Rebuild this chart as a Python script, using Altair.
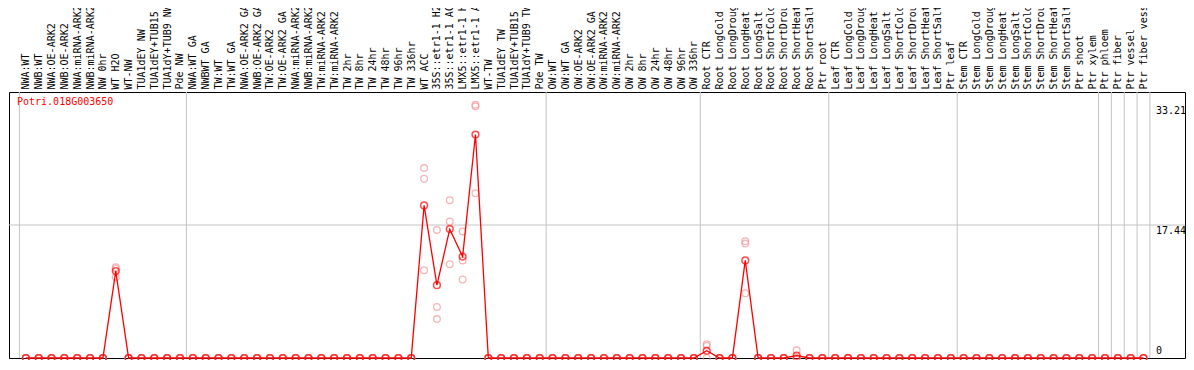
import json
import altair as alt
import pandas as pd

gene = "Potri.018G003650"

labels = [
    "NWA:WT", "NWB:WT", "NWA:OE-ARK2", "NWB:OE-ARK2", "NWA:miRNA-ARK2", "NWB:miRNA-ARK2",
    "NW 0hr", "WT H2O", "WT-NW", "TUA1dEY NW", "TUA1dEY+TUB15 NW", "TUA1dY+TUB9 NW", "Pde NW",
    "NWA:WT GA", "NWBWT GA", "TW:WT", "TW:WT GA", "NWA:OE-ARK2 GA", "NWB:OE-ARK2 GA",
    "TW:OE-ARK2", "TW:OE-ARK2 GA", "NWA:miRNA-ARK2", "NWB:miRNA-ARK2", "TW:miRNA-ARK2",
    "TW:miRNA-ARK2", "TW 2hr", "TW 8hr", "TW 24hr", "TW 48hr", "TW 96hr", "TW 336hr",
    "WT ACC", "35S::etr1-1 H2O", "35S::etr1-1 ACC", "LMX5::etr1-1 H2O", "LMX5::etr1-1 ACC",
    "WT-TW", "TUA1dEY TW", "TUA1dEY+TUB15 TW", "TUA1dY+TUB9 TW", "Pde TW",
    "OW:WT", "OW:WT GA", "OW:OE-ARK2", "OW:OE-ARK2 GA", "OW:miRNA-ARK2", "OW:miRNA-ARK2",
    "OW 2hr", "OW 8hr", "OW 24hr", "OW 48hr", "OW 96hr", "OW 336hr",
    "Root CTR", "Root LongCold", "Root LongDrought", "Root LongHeat", "Root LongSalt",
    "Root ShortCold", "Root ShortDrought", "Root ShortHeat", "Root ShortSalt", "Ptr root",
    "Leaf CTR", "Leaf LongCold", "Leaf LongDrought", "Leaf LongHeat", "Leaf LongSalt",
    "Leaf ShortCold", "Leaf ShortDrought", "Leaf ShortHeat", "Leaf ShortSalt", "Ptr leaf",
    "Stem CTR", "Stem LongCold", "Stem LongDrought", "Stem LongHeat", "Stem LongSalt",
    "Stem ShortCold", "Stem ShortDrought", "Stem ShortHeat", "Stem ShortSalt", "Ptr shoot",
    "Ptr xylem", "Ptr phloem", "Ptr fiber", "Ptr vessel", "Ptr fiber vessel",
]

mean = [
    0, 0, 0, 0, 0, 0, 0, 11.4, 0, 0, 0, 0, 0,
    0, 0, 0, 0, 0, 0, 0, 0, 0, 0, 0, 0, 0, 0, 0, 0, 0, 0,
    20.0, 9.55, 16.9, 13.3, 29.3, 0, 0, 0, 0, 0,
    0, 0, 0, 0, 0, 0, 0, 0, 0, 0, 0, 0,
    0.95, 0, 0, 12.8, 0, 0, 0, 0.3, 0, 0,
    0, 0, 0, 0, 0, 0, 0, 0, 0, 0,
    0, 0, 0, 0, 0, 0, 0, 0, 0, 0,
    0, 0, 0, 0, 0,
]
rep1 = [
    0, 0, 0, 0, 0, 0, 0, 11.7, 0, 0, 0, 0, 0,
    0, 0, 0, 0, 0, 0, 0, 0, 0, 0, 0, 0, 0, 0, 0, 0, 0, 0,
    24.9, 16.8, 20.7, 16.6, 33.21, 0, 0, 0, 0, 0,
    0, 0, 0, 0, 0, 0, 0, 0, 0, 0, 0, 0,
    1.8, 0, 0, 15.3, 0, 0, 0, 1.0, 0, 0,
    0, 0, 0, 0, 0, 0, 0, 0, 0, 0,
    0, 0, 0, 0, 0, 0, 0, 0, 0, 0,
    0, 0, 0, 0, 0,
]
rep2 = [
    0, 0, 0, 0, 0, 0, 0, 11.9, 0, 0, 0, 0, 0,
    0, 0, 0, 0, 0, 0, 0, 0, 0, 0, 0, 0, 0, 0, 0, 0, 0, 0,
    23.5, 6.7, 17.9, 12.8, 33.0, 0, 0, 0, 0, 0,
    0, 0, 0, 0, 0, 0, 0, 0, 0, 0, 0, 0,
    1.6, 0, 0, 15.0, 0, 0, 0, 0, 0, 0,
    0, 0, 0, 0, 0, 0, 0, 0, 0, 0,
    0, 0, 0, 0, 0, 0, 0, 0, 0, 0,
    0, 0, 0, 0, 0,
]
rep3 = [
    0, 0, 0, 0, 0, 0, 0, 10.6, 0, 0, 0, 0, 0,
    0, 0, 0, 0, 0, 0, 0, 0, 0, 0, 0, 0, 0, 0, 0, 0, 0, 0,
    11.5, 5.1, 12.3, 10.3, 21.6, 0, 0, 0, 0, 0,
    0, 0, 0, 0, 0, 0, 0, 0, 0, 0, 0, 0,
    0, 0, 0, 8.5, 0, 0, 0, 0, 0, 0,
    0, 0, 0, 0, 0, 0, 0, 0, 0, 0,
    0, 0, 0, 0, 0, 0, 0, 0, 0, 0,
    0, 0, 0, 0, 0,
]

separators = [-0.5, 12.5, 40.5, 52.5, 62.5, 72.5, 83.5, 84.5, 85.5, 86.5, 87.5]
hgrid = [17.44]
ytick_values = [17.44, 33.21]
ytick_text = ["17.44", "33.21"]
ytick_zero = [0]

# layout / style
W, H = 1176, 266
XMIN, XMAX = -1.31, 90.23
YMAX = 34.88
FONT = "DejaVu Sans Mono"
GRID = "#C4C4C4"

n = len(labels)
df = pd.DataFrame({"idx": list(range(n)), "mean": mean})
reps = pd.DataFrame({"idx": list(range(n)) * 3, "value": rep1 + rep2 + rep3})
sep_df = pd.DataFrame({"x": separators})
hg_df = pd.DataFrame({"y": hgrid})
yt_df = pd.DataFrame({"v": ytick_values, "t": ytick_text})
yz_df = pd.DataFrame({"v": ytick_zero, "t": [str(v) for v in ytick_zero]})
title_df = pd.DataFrame({"t": [gene]})

xs = alt.Scale(domain=[XMIN, XMAX], nice=False, zero=False)
ys = alt.Scale(domain=[0, YMAX], nice=False, zero=True)

x_axis = alt.Axis(
    orient="top", values=list(range(n)), labelExpr=json.dumps(labels) + "[datum.value]",
    labelAngle=270, labelAlign="left", labelBaseline="middle", labelPadding=3,
    labelFont=FONT, labelFontSize=10, labelColor="black", labelOverlap=False,
    labelFlush=False, labelBound=False, labelLimit=0, ticks=False, domain=False,
    grid=False, title=None,
)

X = alt.X("idx:Q", scale=xs, axis=x_axis)

vrules = alt.Chart(sep_df).mark_rule(color=GRID, strokeWidth=1).encode(
    x=alt.X("x:Q", scale=xs, axis=x_axis)
)
hrules = alt.Chart(hg_df).mark_rule(color=GRID, strokeWidth=1).encode(
    y=alt.Y("y:Q", scale=ys, axis=None)
)
rep_pts = alt.Chart(reps).mark_point(
    shape="circle", filled=False, color="#F09A9A", size=45, strokeWidth=1.3
).encode(x=X, y=alt.Y("value:Q", scale=ys, axis=None))
line = alt.Chart(df).mark_line(color="#FF0000", strokeWidth=1.3).encode(
    x=X, y=alt.Y("mean:Q", scale=ys, axis=None)
)
mean_pts = alt.Chart(df).mark_point(
    shape="circle", filled=False, color="#FF0000", size=45, strokeWidth=1.5
).encode(x=X, y=alt.Y("mean:Q", scale=ys, axis=None))

ylab = alt.Chart(yt_df).mark_text(
    font=FONT, fontSize=10, color="black", align="left", baseline="top", dy=1
).encode(x=alt.value(W - 29), y=alt.Y("v:Q", scale=ys, axis=None), text="t:N")
yzero = alt.Chart(yz_df).mark_text(
    font=FONT, fontSize=10, color="black", align="left", baseline="bottom", dy=-2
).encode(x=alt.value(W - 29), y=alt.Y("v:Q", scale=ys, axis=None), text="t:N")
gtitle = alt.Chart(title_df).mark_text(
    font=FONT, fontSize=10, color="#FF0000", align="left", baseline="top"
).encode(x=alt.value(8), y=alt.value(5), text="t:N")

chart = alt.layer(
    vrules, hrules, rep_pts, line, mean_pts, ylab, yzero, gtitle
).properties(
    width=W, height=H,
    autosize=alt.AutoSizeParams(type="none"),
    padding={"left": 1, "right": 1, "top": 84, "bottom": 2},
    background="white",
).configure_view(stroke="black", strokeWidth=1)

chart.save("out.html", embed_options={"renderer": "svg", "actions": False})
